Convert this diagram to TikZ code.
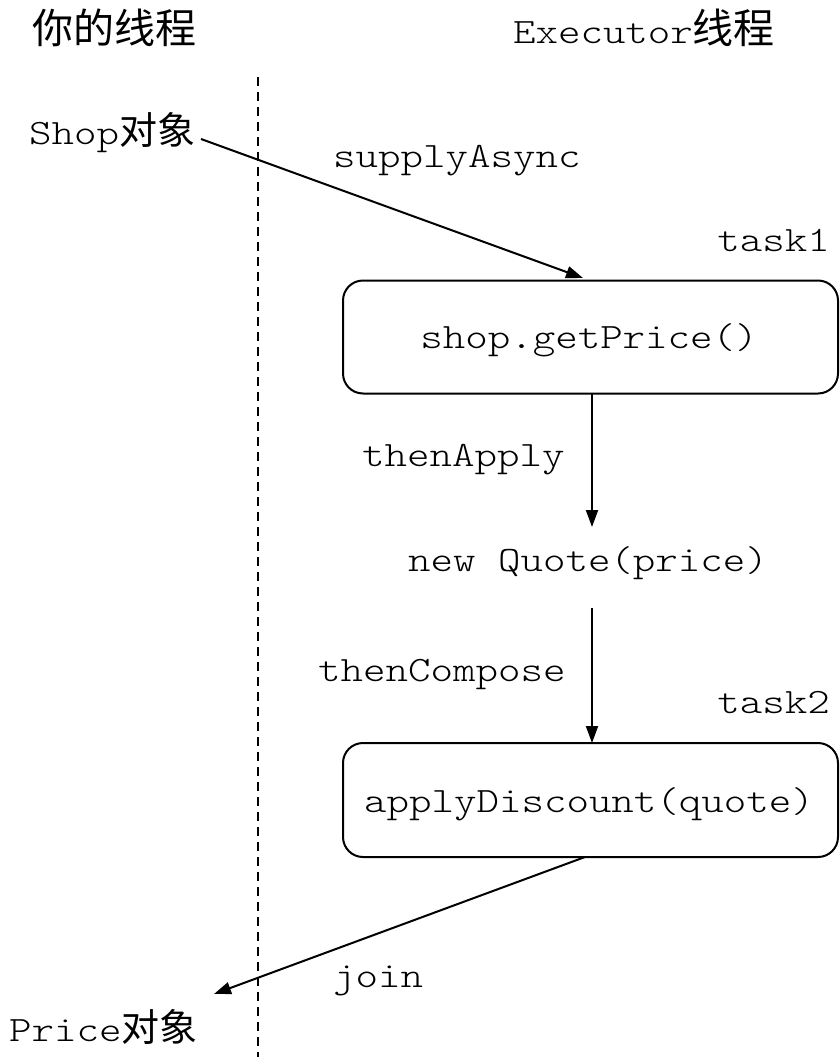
\documentclass[tikz,border=0pt]{standalone}
\usepackage{fontspec}
\setmainfont[FakeStretch=1.2]{Latin Modern Mono Light}
\newfontfamily\cjk{Noto Sans CJK SC}
\usetikzlibrary{arrows.meta}
\tikzset{
  lbl/.style={inner sep=0pt, font=\fontsize{35.7}{40}\selectfont},
  hdr/.style={inner sep=0pt, font=\fontsize{35.7}{40}\selectfont},
  taskbox/.style={draw, line width=2pt, rounded corners=20pt, inner sep=0pt},
  conn/.style={line width=2pt, -{Triangle[length=17pt,width=12pt]}},
  lane/.style={line width=1.6pt, dash pattern=on 9pt off 6pt}
}
\newcommand{\zh}[1]{{\cjk\fontsize{38}{40}\selectfont #1}}
\newcommand{\zhh}[1]{{\cjk\fontsize{41}{44}\selectfont #1}}
\begin{document}
\begin{tikzpicture}[x=1pt,y=-1pt]
\useasboundingbox (0,0) rectangle (839,1057);
% headers
\node[hdr] (h1) at (114,28) {\zhh{你的线程}};
\node[hdr] (h2) at (644,28) {Executor\zhh{线程}};
% lane divider
\coordinate (laneTop) at (258,77);
\coordinate (laneBot) at (258,1057);
\draw[lane] (laneTop) -- (laneBot);
% boxes
\node[taskbox, minimum width=495pt, minimum height=113pt] (b1) at (590.5,337) {};
\node[lbl, anchor=base] (t1) at (589,348) {shop.getPrice()};
\node[taskbox, minimum width=495pt, minimum height=114pt] (b2) at (590.5,800) {};
\node[lbl, anchor=base] (t2) at (589,812) {applyDiscount(quote)};
% labels
\node[lbl, anchor=base east] (task1) at (830,251) {task1};
\node[lbl, anchor=base east] (task2) at (830,713) {task2};
\node[lbl, anchor=base west] (sa) at (333,167) {supplyAsync};
\node[lbl, anchor=base west] (ta) at (362,466) {thenApply};
\node[lbl, anchor=base] (nq) at (588,571) {new Quote(price)};
\node[lbl, anchor=base west] (tc) at (318,681) {thenCompose};
\node[lbl, anchor=base west] (jn) at (333,987) {join};
\node[lbl, anchor=base west] (shop) at (29,144) {Shop\zh{对象}};
\node[lbl, anchor=base west] (price) at (9,1041) {Price\zh{对象}};
% connectors
\coordinate (s1) at (201,139);
\coordinate (e1) at (583,278);
\draw[conn] (s1) -- (e1);
\draw[conn] (592,394) -- (592,527);
\draw[conn] (592,608) -- (592,743);
\coordinate (s4) at (585,857);
\coordinate (e4) at (214,994);
\draw[conn] (s4) -- (e4);
\end{tikzpicture}
\end{document}
